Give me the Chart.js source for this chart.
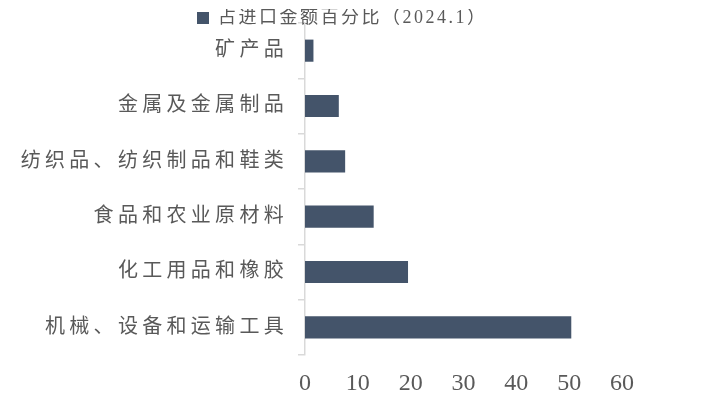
<!DOCTYPE html>
<html lang="zh">
<head>
    <meta charset="UTF-8">
    <title>占进口金额百分比</title>
    <script src="https://cdn.jsdelivr.net/npm/chart.js"></script>
    <style>
        body { margin: 0; background: #ffffff; }
        .box { width: 708px; height: 413px; }
    </style>
</head>
<body>
    <div class="box"><canvas id="grafico"></canvas></div>
    <script>
        // dados
        const categorias = ['矿产品', '金属及金属制品', '纺织品、纺织制品和鞋类', '食品和农业原材料', '化工用品和橡胶', '机械、设备和运输工具'];
        const percentuais = [1.6, 6.4, 7.6, 13.0, 19.5, 50.4];
        const rotuloSerie = '占进口金额百分比（2024.1）';
        const eixoMin = 0, eixoMax = 60, passo = 10;

        const cinza = '#595959';
        const fonte = '"Liberation Serif", "Noto Sans CJK SC", serif';

        // espaçamento entre letras (canvas letterSpacing) para os rótulos e a legenda
        const espacamento = {
            id: 'espacamento',
            afterUpdate(chart) {
                const y = chart.scales.y;
                if (y && !y._esp) {
                    const orig = y.drawLabels;
                    y.drawLabels = function (area) {
                        const c = this.ctx;
                        c.save(); c.letterSpacing = '4.3px';
                        orig.call(this, area);
                        c.restore();
                    };
                    y._esp = true;
                }
                const lg = chart.legend;
                if (lg && !lg._esp) {
                    const origL = lg.draw;
                    lg.draw = function (area) {
                        const c = this.ctx;
                        c.save(); c.translate(197, 14); c.letterSpacing = '2.5px';
                        origL.call(this, area);
                        c.restore();
                    };
                    lg._esp = true;
                }
            }
        };

        new Chart(document.getElementById('grafico').getContext('2d'), {
            type: 'bar',
            data: {
                labels: categorias,
                datasets: [{
                    label: rotuloSerie,
                    data: percentuais,
                    backgroundColor: '#44546a',
                    borderWidth: 0,
                    categoryPercentage: 1,
                    barPercentage: 0.4
                }]
            },
            options: {
                indexAxis: 'y',
                responsive: true,
                maintainAspectRatio: false,
                animation: false,
                layout: { padding: { left: 0, right: 86, top: -5, bottom: 0 } },
                plugins: {
                    tooltip: { enabled: false },
                    legend: {
                        position: 'top',
                        align: 'start',
                        labels: {
                            boxWidth: 12, boxHeight: 12, padding: 0,
                            color: cinza,
                            font: { family: fonte, size: 18, lineHeight: 1 }
                        }
                    }
                },
                scales: {
                    x: {
                        min: eixoMin, max: eixoMax,
                        grid: { display: false, drawTicks: false },
                        border: { display: false },
                        ticks: { stepSize: passo, padding: 17, color: cinza, font: { family: fonte, size: 24, lineHeight: 1 } }
                    },
                    y: {
                        grid: { drawOnChartArea: false, color: '#d9d9d9', tickLength: 7, lineWidth: 1.5 },
                        border: { color: '#d9d9d9', width: 1.5 },
                        ticks: { padding: 10, color: cinza, font: { family: fonte, size: 20 } },
                        afterFit: s => { s.width = 305; }
                    }
                }
            },
            plugins: [espacamento]
        });
    </script>
</body>
</html>
